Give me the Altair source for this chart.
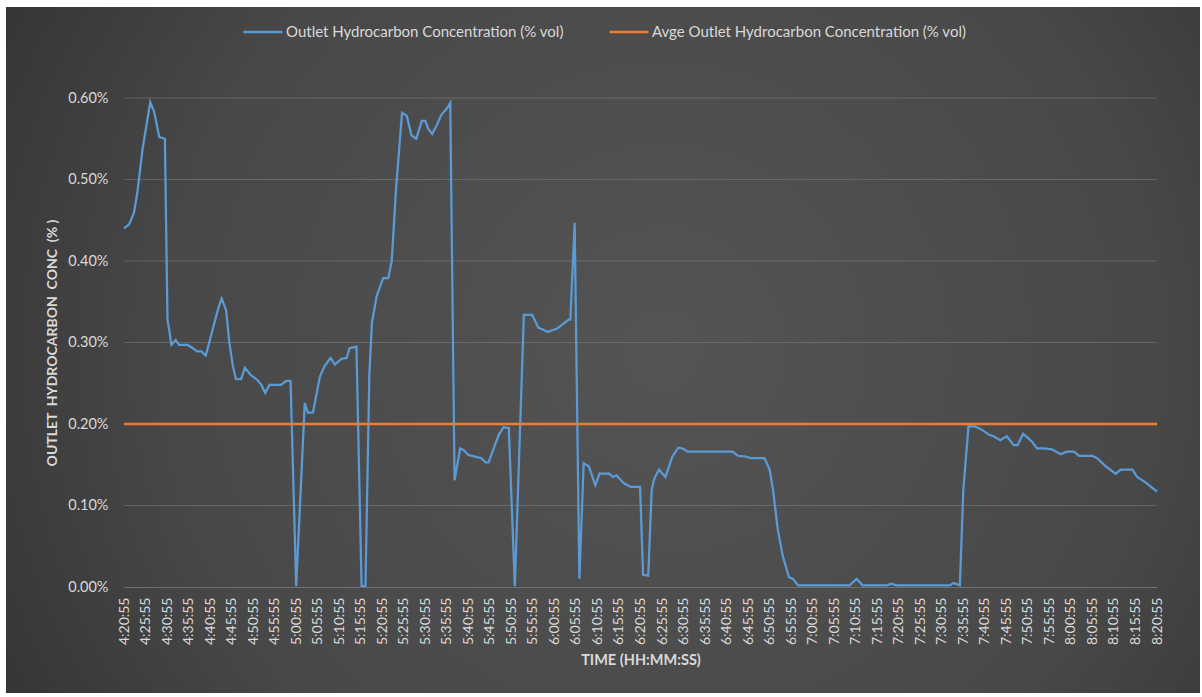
import altair as alt
import pandas as pd

# minutes after 4:20:55 and outlet concentration (% vol)
minutes = [0.0, 1.2, 2.3, 3.1, 4.3, 6.1, 7.0, 8.2, 9.5, 10.1, 10.5, 11.0, 12.0, 12.8, 14.8, 16.0,
           17.0, 18.0, 19.0, 20.6, 21.8, 22.7, 23.7, 24.5, 25.3, 26.0, 27.2, 28.1, 29.5, 31.0,
           31.9, 32.8, 33.8, 36.5, 37.7, 38.7, 40.0, 42.0, 42.7, 43.9, 45.5, 46.6, 48.0, 49.0,
           50.5, 51.7, 52.4, 54.0, 55.2, 56.1, 57.0, 57.6, 58.7, 60.2, 61.4, 62.2, 63.2, 64.6,
           65.7, 66.8, 67.9, 69.2, 70.0, 70.7, 71.6, 72.6, 73.8, 75.0, 75.8, 76.8, 78.1, 78.9,
           80.0, 81.6, 83.0, 84.0, 84.7, 85.9, 87.1, 88.2, 89.4, 90.8, 92.9, 94.8, 96.3, 97.3,
           98.4, 99.5, 100.6, 101.8, 103.3, 103.7, 104.7, 105.8, 106.8, 108.0, 109.5, 110.5,
           112.7, 113.6, 114.4, 116.2, 117.7, 119.9, 120.6, 121.8, 122.6, 123.2, 124.3, 125.8,
           127.4, 128.8, 129.8, 130.9, 141.4, 142.6, 144.5, 145.7, 148.8, 150.0, 150.8, 151.9,
           153.1, 154.5, 155.4, 156.6, 168.6, 170.2, 171.6, 177.2, 178.3, 179.4, 191.9, 192.7,
           194.2, 195.0, 196.2, 197.7, 199.3, 200.9, 202.0, 203.6, 205.1, 206.7, 207.6, 208.9,
           210.0, 211.0, 212.1, 213.7, 215.6, 217.6, 219.1, 220.7, 221.9, 225.0, 226.1, 228.1,
           230.4, 231.6, 234.3, 235.4, 237.4, 240.0]
conc_pct = [0.440, 0.445, 0.459, 0.484, 0.537, 0.595, 0.583, 0.552, 0.550, 0.328, 0.316, 0.297,
            0.303, 0.297, 0.297, 0.293, 0.289, 0.289, 0.284, 0.316, 0.340, 0.354, 0.340, 0.299,
            0.271, 0.255, 0.255, 0.269, 0.260, 0.254, 0.248, 0.238, 0.248, 0.248, 0.253, 0.253,
            0.001, 0.226, 0.214, 0.214, 0.258, 0.271, 0.281, 0.273, 0.280, 0.281, 0.293, 0.295,
            0.001, 0.001, 0.260, 0.324, 0.357, 0.379, 0.379, 0.400, 0.488, 0.582, 0.578, 0.554,
            0.550, 0.572, 0.572, 0.562, 0.556, 0.566, 0.580, 0.587, 0.594, 0.131, 0.170, 0.168,
            0.162, 0.160, 0.158, 0.153, 0.153, 0.170, 0.187, 0.196, 0.195, 0.001, 0.334, 0.334,
            0.318, 0.316, 0.313, 0.315, 0.317, 0.322, 0.328, 0.328, 0.447, 0.010, 0.152, 0.148,
            0.125, 0.139, 0.139, 0.135, 0.137, 0.127, 0.123, 0.123, 0.015, 0.014, 0.119, 0.133,
            0.144, 0.135, 0.160, 0.171, 0.170, 0.166, 0.166, 0.161, 0.160, 0.158, 0.158, 0.144,
            0.119, 0.070, 0.037, 0.012, 0.010, 0.002, 0.002, 0.010, 0.002, 0.002, 0.004, 0.002,
            0.002, 0.005, 0.002, 0.119, 0.197, 0.197, 0.193, 0.187, 0.185, 0.180, 0.185, 0.174,
            0.174, 0.188, 0.183, 0.178, 0.170, 0.170, 0.169, 0.163, 0.166, 0.166, 0.161, 0.161,
            0.158, 0.148, 0.139, 0.144, 0.144, 0.135, 0.128, 0.117]
avg_pct = 0.20
avg_minutes = [0, 240]

tick_minutes = list(range(0, 241, 5))
tick_labels = ["4:20:55", "4:25:55", "4:30:55", "4:35:55", "4:40:55", "4:45:55", "4:50:55",
               "4:55:55", "5:00:55", "5:05:55", "5:10:55", "5:15:55", "5:20:55", "5:25:55",
               "5:30:55", "5:35:55", "5:40:55", "5:45:55", "5:50:55", "5:55:55", "6:00:55",
               "6:05:55", "6:10:55", "6:15:55", "6:20:55", "6:25:55", "6:30:55", "6:35:55",
               "6:40:55", "6:45:55", "6:50:55", "6:55:55", "7:00:55", "7:05:55", "7:10:55",
               "7:15:55", "7:20:55", "7:25:55", "7:30:55", "7:35:55", "7:40:55", "7:45:55",
               "7:50:55", "7:55:55", "8:00:55", "8:05:55", "8:10:55", "8:15:55", "8:20:55"]
y_ticks = [0.0, 0.001, 0.002, 0.003, 0.004, 0.005, 0.006]
grid_ticks = [0.001, 0.002, 0.003, 0.004, 0.005, 0.006]

S_MAIN = "Outlet Hydrocarbon Concentration (% vol)"
S_AVG = "Avge Outlet Hydrocarbon Concentration (% vol)"
BLUE = "#5B9BD5"
ORANGE = "#ED7D31"
TXT = "#d9d9d9"
FONT = "Lato"

df_main = pd.DataFrame({"minute": minutes, "conc": [v / 100 for v in conc_pct], "series": S_MAIN})
df_avg = pd.DataFrame({"minute": avg_minutes, "conc": [avg_pct / 100] * len(avg_minutes), "series": S_AVG})
df_grid = pd.DataFrame({"conc": grid_ticks})

label_expr = "[" + ",".join("'%s'" % s for s in tick_labels) + "][round(datum.value / 5)]"

x_scale = alt.Scale(domain=[0, 240], nice=False, zero=False)
y_scale = alt.Scale(domain=[0, 0.006], nice=False)

x_enc = alt.X("minute:Q", scale=x_scale,
              axis=alt.Axis(values=tick_minutes, tickCount=len(tick_minutes),
                            labelExpr=label_expr, labelAngle=270,
                            labelAlign="right", labelBaseline="middle", labelPadding=10,
                            labelFontSize=14, labelColor=TXT, labelFont=FONT, ticks=False,
                            grid=False, domainColor="#707070", domainWidth=1, zindex=1,
                            labelOverlap=False, title="TIME (HH:MM:SS)", titleFont=FONT,
                            titleFontSize=14.5, titleFontWeight="bold", titleColor=TXT,
                            titlePadding=9))
y_enc = alt.Y("conc:Q", scale=y_scale,
              axis=alt.Axis(values=y_ticks, format=".2%", labelFontSize=14.5, labelColor=TXT,
                            labelFont=FONT, labelPadding=16, ticks=False, domain=False,
                            grid=False, zindex=1,
                            title="OUTLET\u00a0 HYDROCARBON\u00a0 CONC\u00a0 (%\u00a0)",
                            titleFont=FONT, titleFontSize=14, titleFontWeight="bold",
                            titleColor=TXT, titlePadding=8))
color_enc = alt.Color("series:N",
                      scale=alt.Scale(domain=[S_MAIN, S_AVG], range=[BLUE, ORANGE]),
                      legend=alt.Legend(orient="none", direction="horizontal", legendX=118,
                                        legendY=-87, title=None, symbolType="stroke",
                                        symbolSize=1521, symbolStrokeWidth=2.5,
                                        labelFontSize=15, labelColor=TXT, labelFont=FONT,
                                        labelLimit=500, labelOffset=2, columnPadding=40,
                                        zindex=1))

gradient = alt.RadialGradient(
    gradient="radial",
    stops=[alt.GradientStop(offset=0, color="#545454"),
           alt.GradientStop(offset=0.55, color="#484848"),
           alt.GradientStop(offset=1, color="#2a2a2a")],
    x1=0.55, y1=0.5, x2=0.55, y2=0.5, r1=0, r2=0.75)

bg = alt.Chart(pd.DataFrame({"k": [0]})).mark_rect(fill=gradient).encode(
    x=alt.value(-118), x2=alt.value(1076), y=alt.value(-91), y2=alt.value(595))

grid = alt.Chart(df_grid).mark_rule(color="#9a9a9a", opacity=0.35, strokeWidth=1).encode(
    y=alt.Y("conc:Q", scale=y_scale), x=alt.value(0), x2=alt.value(1033))

main_line = alt.Chart(df_main).mark_line(strokeWidth=2.25).encode(x=x_enc, y=y_enc, color=color_enc)
avg_line = alt.Chart(df_avg).mark_line(strokeWidth=2.5).encode(x="minute:Q", y="conc:Q", color=color_enc)

chart = alt.layer(bg, grid, main_line, avg_line).properties(
    width=1033, height=489,
    padding={"left": 6, "top": 7, "right": 2, "bottom": 4},
    background="white",
    autosize=alt.AutoSizeParams(type="pad"),
).configure_view(stroke=None)

chart.save("out.html", embed_options={"renderer": "svg", "actions": False})
